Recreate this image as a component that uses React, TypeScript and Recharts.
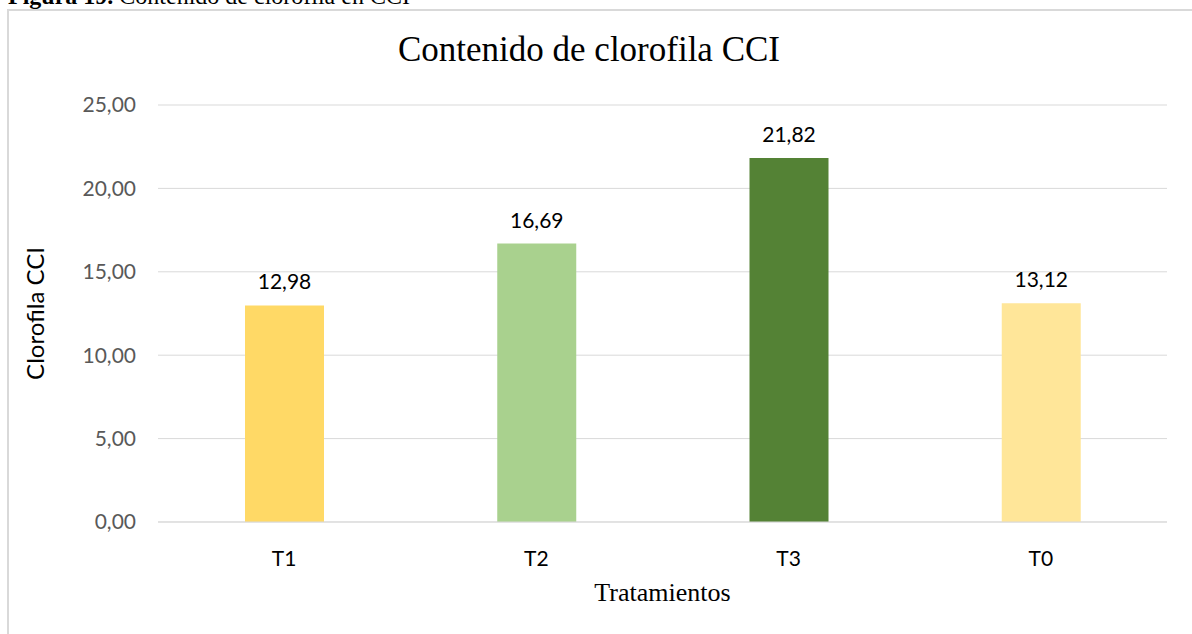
import React from 'react';
import { BarChart, Bar, XAxis, YAxis, CartesianGrid, LabelList, Label, Cell } from 'recharts';

const categories = ['T1', 'T2', 'T3', 'T0'];
const values = [12.98, 16.69, 21.82, 13.12];
const barColors = ['#FFD966', '#A9D18E', '#548235', '#FFE699'];
const yTicks = [0, 5, 10, 15, 20, 25];

const data = categories.map((name, i) => ({ name, value: values[i] }));

// coma decimal, como en el original
const fmt = (v: number) => Number(v).toFixed(2).replace('.', ',');

const sans = 'Lato, "Open Sans", sans-serif';
const serif = '"Liberation Serif", "Times New Roman", serif';

const App: React.FC = () => {
  return (
    <div style={{ position: 'absolute', left: 0, top: 0, width: 1192, height: 634, overflow: 'hidden', background: '#fff' }}>
      <div style={{ position: 'absolute', left: 8, top: -17, fontFamily: serif, fontSize: 24, whiteSpace: 'nowrap', color: '#000' }}>
        <b>Figura 19.</b> Contenido de clorofila en CCI
      </div>
      <div style={{ position: 'absolute', left: 7, top: 9, width: 1220, height: 700, border: '2px solid #D9D9D9' }} />
      <div style={{ position: 'absolute', left: 0, top: 30, width: 1178, textAlign: 'center', fontFamily: serif, fontSize: 35, color: '#000', whiteSpace: 'nowrap' }}>
        Contenido de clorofila CCI
      </div>
      <div style={{ position: 'absolute', left: 0, top: 0 }}>
        <BarChart width={1192} height={634} data={data} margin={{ top: 105, right: 25, bottom: 0, left: 0 }}>
          <CartesianGrid vertical={false} stroke="#D9D9D9" />
          <XAxis
            dataKey="name"
            height={112}
            axisLine={{ stroke: '#D9D9D9' }}
            tickLine={false}
            tickSize={0}
            tickMargin={29}
            tick={{ fill: '#000', fontSize: 21, fontFamily: sans }}
          >
            <Label value="Tratamientos" position="insideBottom" offset={33} fill="#000" fontSize={26} fontFamily={serif} />
          </XAxis>
          <YAxis
            type="number"
            width={158}
            domain={[0, 25]}
            ticks={yTicks}
            interval={0}
            tickFormatter={fmt}
            axisLine={false}
            tickLine={false}
            tickSize={0}
            tickMargin={22}
            tick={{ fill: '#595959', fontSize: 21, fontFamily: sans }}
          >
            <Label
              value="Clorofila CCI"
              angle={-90}
              position="insideLeft"
              offset={35}
              fill="#000"
              fontSize={24}
              fontFamily={sans}
              style={{ textAnchor: 'middle' }}
            />
          </YAxis>
          <Bar dataKey="value" barSize={79} isAnimationActive={false}>
            {data.map((d, i) => (
              <Cell key={d.name} fill={barColors[i]} />
            ))}
            <LabelList dataKey="value" position="top" offset={16} formatter={fmt} fill="#000" fontSize={21} fontFamily={sans} />
          </Bar>
        </BarChart>
      </div>
    </div>
  );
};

export default App;
